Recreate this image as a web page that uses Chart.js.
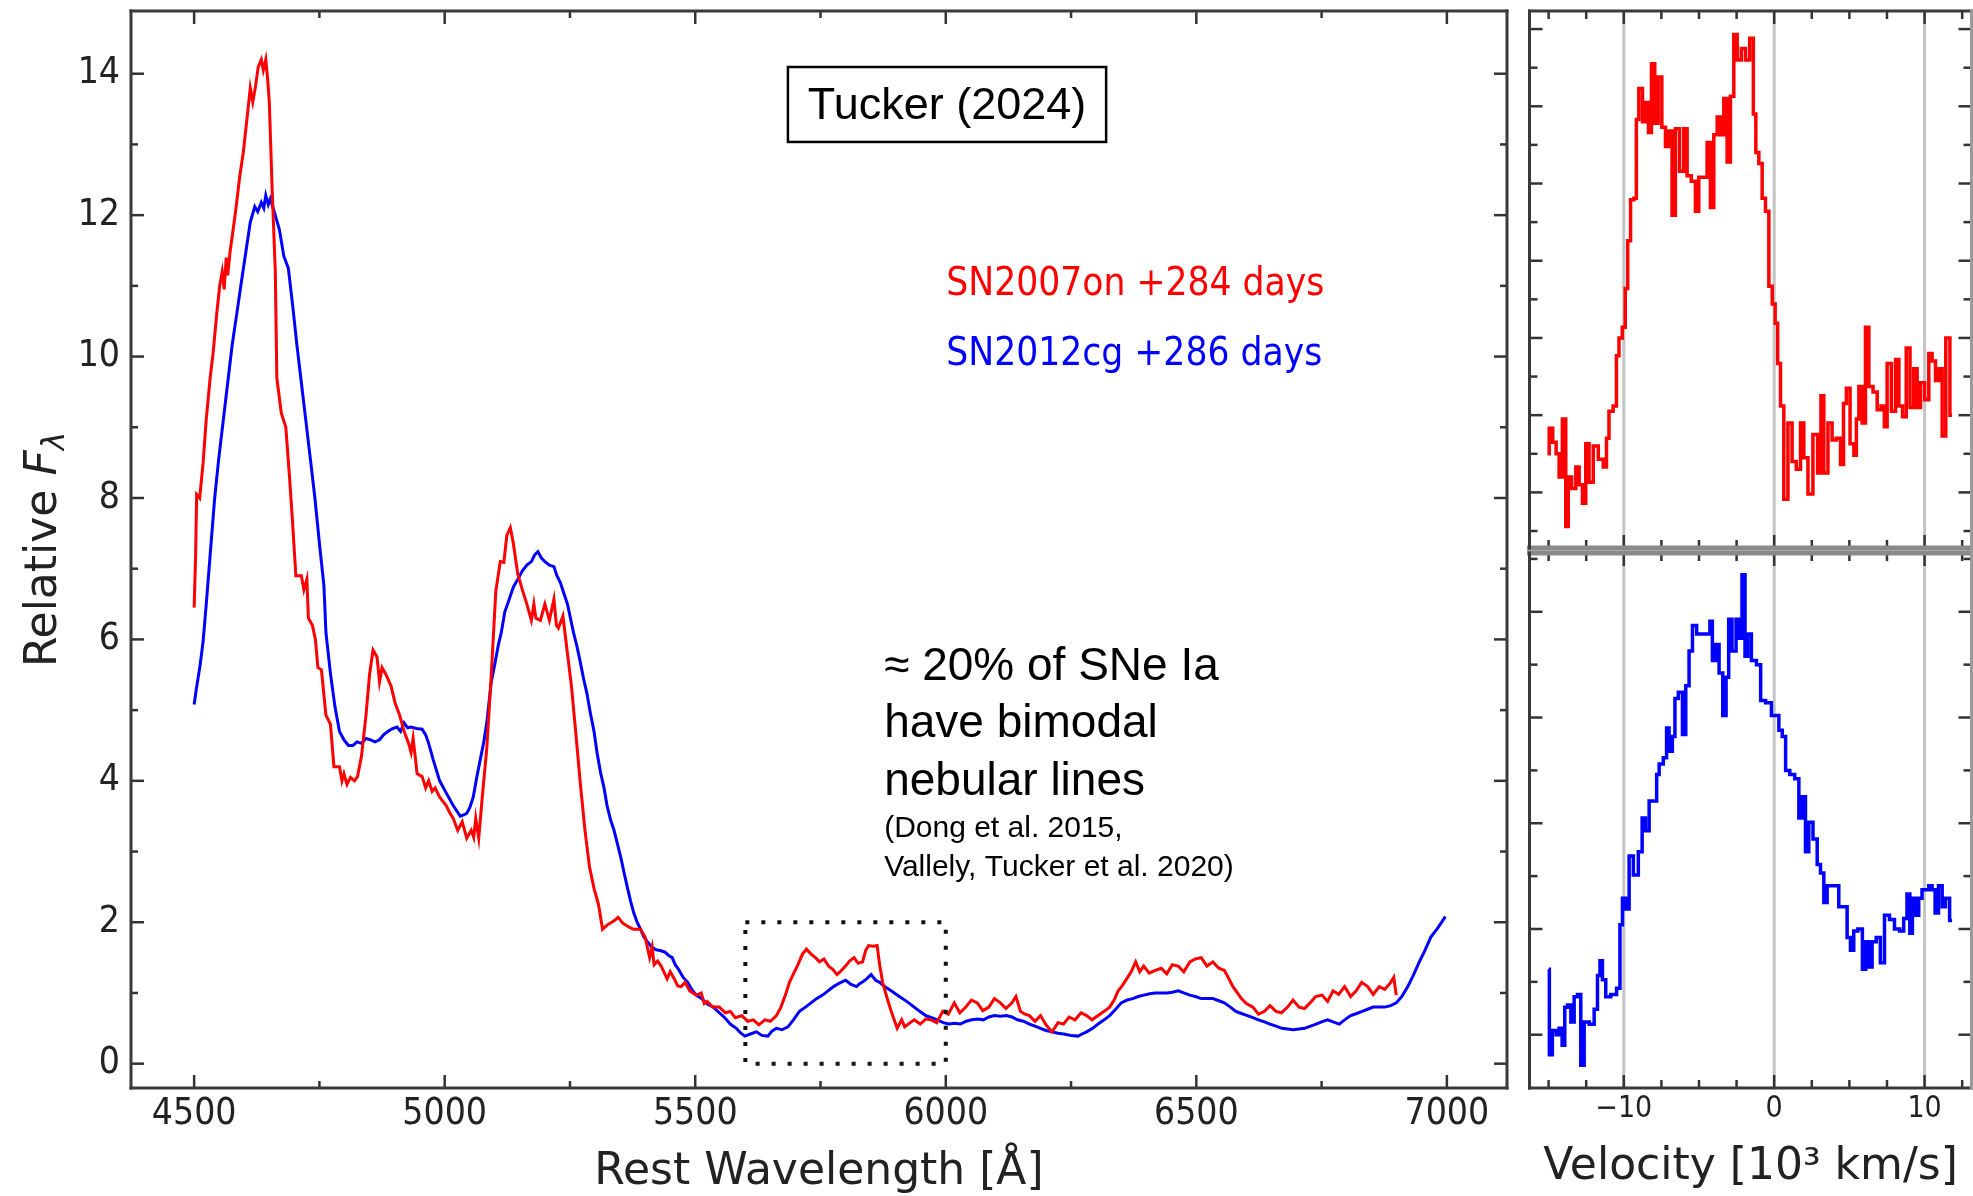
<!DOCTYPE html>
<html>
<head>
<meta charset="utf-8">
<script src="https://cdn.jsdelivr.net/npm/chart.js@4.4.1/dist/chart.umd.min.js"></script>
<style>
  html, body { margin: 0; padding: 0; background: #fff; }
  body { width: 1973px; height: 1196px; position: relative; overflow: hidden; }
  canvas { position: absolute; }
</style>
</head>
<body>
<canvas id="main" width="1515" height="1196" style="left:0;top:0;width:1515px;height:1196px"></canvas>
<canvas id="velTop" width="458" height="560" style="left:1515px;top:0;width:458px;height:560px"></canvas>
<canvas id="velBot" width="458" height="656" style="left:1515px;top:540px;width:458px;height:656px"></canvas>
<script>
// SN2007on +284 d (red) and SN2012cg +286 d (blue), rest wavelength [A] / relative flux
const redWave = [4500,4503,4505,4511,4518,4524,4532,4538,4545,4551,4556,4560,4564,4567,4572,4576,4583,4591,4598,4606,4612,4617,4622,4628,4634,4638,4643,4647,4650,4656,4662,4665,4674,4683,4690,4696,4703,4714,4719,4725,4728,4736,4742,4747,4754,4763,4772,4779,4790,4795,4799,4805,4812,4820,4826,4834,4843,4850,4857,4865,4870,4875,4883,4893,4901,4910,4919,4928,4933,4937,4945,4955,4962,4968,4975,4981,4990,5003,5010,5017,5026,5035,5044,5053,5058,5062,5068,5075,5084,5093,5102,5111,5118,5124,5131,5137,5146,5155,5164,5173,5178,5182,5191,5200,5209,5218,5223,5227,5236,5245,5253,5262,5271,5280,5289,5298,5307,5315,5324,5338,5346,5355,5368,5377,5391,5400,5409,5414,5418,5425,5432,5444,5450,5458,5465,5472,5480,5489,5502,5512,5518,5524,5535,5548,5560,5570,5580,5593,5605,5616,5627,5639,5650,5662,5671,5680,5688,5696,5705,5714,5722,5731,5740,5748,5757,5766,5775,5783,5792,5800,5808,5817,5825,5834,5840,5846,5855,5863,5868,5874,5882,5891,5897,5903,5912,5918,5925,5937,5949,5960,5971,5982,5994,6005,6017,6028,6040,6051,6063,6074,6086,6097,6109,6120,6132,6140,6149,6158,6167,6178,6189,6200,6212,6224,6235,6246,6258,6270,6281,6292,6304,6316,6327,6336,6344,6352,6361,6370,6379,6387,6395,6406,6418,6430,6441,6452,6464,6475,6487,6498,6510,6521,6533,6545,6556,6565,6573,6582,6590,6600,6613,6624,6636,6647,6659,6670,6682,6693,6705,6716,6727,6738,6751,6762,6773,6784,6796,6808,6819,6830,6842,6853,6865,6876,6888,6894,6899];
const redFlux = [6.45,7.2,8.05,8.0,8.5,9.1,9.7,10.06,10.6,11.0,11.2,10.95,11.4,11.15,11.5,11.7,12.07,12.55,12.88,13.4,13.8,13.6,13.8,14.1,14.2,14.05,14.2,13.9,13.6,12.3,11.2,9.7,9.2,9.0,8.33,7.7,6.9,6.9,6.7,6.85,6.3,6.2,6.0,5.6,5.57,4.93,4.8,4.2,4.2,4.0,4.1,3.95,4.05,4.0,4.06,4.35,4.93,5.5,5.85,5.75,5.4,5.6,5.5,5.34,5.1,4.93,4.7,4.53,4.4,4.6,4.1,4.06,3.9,4.0,3.85,3.9,3.77,3.65,3.55,3.47,3.3,3.42,3.19,3.3,3.2,3.47,3.19,3.77,4.46,5.5,6.68,7.1,7.09,7.47,7.58,7.36,6.92,6.7,6.5,6.27,6.5,6.3,6.27,6.5,6.27,6.57,6.2,6.16,6.33,5.8,5.34,4.65,3.94,3.3,2.78,2.48,2.25,1.9,1.96,2.02,2.07,1.99,1.93,1.9,1.9,1.79,1.5,1.65,1.4,1.45,1.38,1.2,1.3,1.2,1.1,1.09,1.15,1.03,0.97,1.0,0.85,0.88,0.8,0.8,0.72,0.74,0.65,0.68,0.6,0.62,0.55,0.62,0.6,0.68,0.8,0.97,1.15,1.27,1.4,1.55,1.62,1.55,1.5,1.44,1.48,1.38,1.33,1.26,1.32,1.38,1.45,1.5,1.42,1.44,1.6,1.67,1.66,1.67,1.4,1.15,0.95,0.74,0.62,0.5,0.62,0.52,0.56,0.62,0.56,0.63,0.62,0.58,0.74,0.7,0.86,0.72,0.8,0.9,0.86,0.75,0.8,0.92,0.86,0.78,0.86,0.95,0.74,0.7,0.68,0.6,0.68,0.55,0.45,0.58,0.56,0.66,0.62,0.72,0.68,0.62,0.68,0.74,0.8,0.9,1.03,1.1,1.2,1.3,1.44,1.3,1.38,1.28,1.32,1.35,1.27,1.4,1.38,1.3,1.44,1.48,1.5,1.38,1.44,1.35,1.32,1.2,1.09,1.0,0.92,0.85,0.8,0.7,0.74,0.82,0.74,0.72,0.8,0.9,0.8,0.78,0.86,0.95,0.97,0.88,1.03,0.98,1.09,0.95,1.03,1.15,1.09,0.98,1.09,1.05,1.15,1.22,0.97];

const blueWave = [4500,4504,4512,4518,4525,4532,4541,4549,4558,4567,4576,4585,4594,4603,4612,4621,4627,4634,4639,4643,4648,4652,4661,4670,4679,4688,4697,4705,4714,4723,4732,4741,4750,4759,4763,4772,4781,4790,4799,4808,4817,4825,4834,4843,4852,4861,4870,4878,4887,4896,4905,4912,4919,4926,4932,4944,4955,4962,4968,4977,4990,5003,5017,5031,5038,5044,5050,5057,5064,5071,5078,5084,5093,5100,5107,5113,5120,5128,5137,5146,5155,5164,5173,5180,5186,5193,5200,5209,5218,5224,5231,5238,5245,5251,5257,5264,5270,5277,5284,5291,5298,5304,5311,5318,5324,5331,5338,5345,5352,5358,5365,5371,5377,5384,5391,5397,5404,5413,5422,5430,5439,5447,5454,5460,5467,5476,5485,5493,5502,5513,5525,5536,5548,5559,5570,5582,5590,5599,5610,5622,5633,5645,5653,5662,5673,5685,5696,5708,5720,5731,5742,5754,5765,5776,5788,5800,5811,5822,5828,5833,5842,5851,5860,5868,5880,5891,5903,5914,5926,5937,5948,5960,5972,5983,5995,6006,6018,6029,6041,6052,6064,6075,6086,6097,6109,6121,6132,6143,6155,6167,6178,6189,6200,6212,6224,6235,6250,6264,6272,6281,6293,6304,6316,6327,6339,6350,6362,6373,6384,6395,6407,6418,6430,6441,6452,6464,6475,6487,6498,6510,6521,6533,6545,6556,6568,6579,6590,6602,6613,6624,6636,6647,6659,6671,6682,6693,6705,6716,6728,6739,6750,6762,6773,6785,6796,6808,6820,6831,6842,6853,6865,6876,6888,6899,6910,6922,6933,6945,6956,6968,6982,6997];
const blueFlux = [5.08,5.28,5.64,5.98,6.57,7.2,8.0,8.55,9.09,9.63,10.17,10.6,11.04,11.47,11.9,12.12,12.05,12.18,12.1,12.28,12.15,12.23,12.02,11.8,11.42,11.25,10.7,10.17,9.63,9.09,8.55,8.0,7.36,6.76,6.1,5.52,5.05,4.7,4.58,4.5,4.5,4.55,4.53,4.6,4.58,4.55,4.58,4.65,4.7,4.74,4.76,4.7,4.82,4.75,4.76,4.74,4.73,4.65,4.53,4.3,4.0,3.83,3.65,3.5,3.52,3.54,3.62,3.77,4.05,4.3,4.55,4.82,5.4,5.65,5.92,6.1,6.39,6.55,6.74,6.85,6.97,7.05,7.1,7.2,7.24,7.15,7.1,7.05,7.03,6.9,6.8,6.65,6.5,6.3,6.1,5.9,5.7,5.45,5.23,4.95,4.7,4.4,4.12,3.9,3.65,3.45,3.3,3.1,2.9,2.7,2.48,2.3,2.14,2.0,1.9,1.8,1.73,1.65,1.61,1.6,1.58,1.53,1.5,1.4,1.33,1.22,1.15,1.05,0.97,0.92,0.84,0.8,0.72,0.65,0.56,0.5,0.44,0.39,0.42,0.45,0.4,0.39,0.46,0.5,0.48,0.52,0.62,0.74,0.8,0.86,0.92,0.97,1.03,1.09,1.14,1.18,1.12,1.09,1.13,1.15,1.2,1.26,1.18,1.15,1.08,1.03,0.97,0.92,0.86,0.8,0.74,0.68,0.65,0.62,0.58,0.56,0.57,0.56,0.6,0.62,0.63,0.62,0.66,0.68,0.67,0.68,0.66,0.62,0.6,0.56,0.53,0.5,0.47,0.45,0.43,0.42,0.4,0.39,0.42,0.45,0.5,0.56,0.62,0.68,0.77,0.86,0.9,0.92,0.95,0.97,0.99,1.0,1.0,1.0,1.01,1.03,1.0,0.97,0.95,0.92,0.92,0.92,0.89,0.86,0.8,0.74,0.71,0.68,0.65,0.62,0.59,0.56,0.53,0.5,0.49,0.48,0.49,0.5,0.53,0.56,0.59,0.62,0.59,0.56,0.62,0.68,0.71,0.74,0.77,0.8,0.8,0.8,0.82,0.86,0.95,1.09,1.25,1.44,1.6,1.79,1.92,2.08];

// line profiles, velocity [10^3 km/s] / arbitrary flux
const velRed = [-15.07,-14.85,-14.6,-14.4,-14.2,-13.97,-13.75,-13.64,-13.3,-13.08,-12.86,-12.64,-12.42,-12.2,-11.86,-11.53,-11.2,-11.1,-10.87,-10.55,-10.43,-10.21,-9.99,-9.82,-9.66,-9.44,-9.22,-9.11,-8.89,-8.62,-8.45,-8.27,-8.05,-7.83,-7.6,-7.34,-7.12,-6.9,-6.68,-6.46,-6.13,-5.9,-5.68,-5.35,-5.13,-4.9,-4.57,-4.35,-4.13,-3.9,-3.68,-3.46,-3.24,-3.02,-2.8,-2.57,-2.35,-2.02,-1.8,-1.46,-1.31,-1.13,-0.91,-0.69,-0.47,-0.24,-0.02,0.15,0.31,0.53,0.75,1.08,1.3,1.64,1.86,2.08,2.41,2.74,3.03,3.19,3.41,3.74,3.96,4.3,4.52,4.7,4.9,5.19,5.41,5.52,5.74,5.96,6.18,6.41,6.74,6.96,7.25,7.4,7.62,7.96,8.18,8.4,8.67,8.89,9.17,9.39,9.62,9.84,10.17,10.39,10.61,10.84,11.06,11.28,11.54,11.83];
const lineRed = [1.5,1.83,1.65,1.5,1.2,1.95,0.56,1.2,1.05,1.33,1.1,0.86,1.63,1.13,1.6,1.43,1.33,1.7,2.05,2.12,2.77,3.0,3.14,3.64,4.26,4.79,4.81,5.83,6.23,5.8,6.05,5.66,6.55,5.78,6.38,5.73,5.48,5.68,4.59,5.71,5.16,5.71,5.1,5.03,4.64,5.08,5.08,5.53,4.69,5.63,5.86,5.63,6.1,5.28,6.13,6.93,6.6,6.75,6.6,6.88,5.9,5.4,5.26,4.81,4.64,3.67,3.44,3.19,2.67,2.12,0.91,1.9,1.4,1.3,1.9,1.45,0.98,1.75,1.25,2.25,1.25,1.9,1.68,1.7,1.36,2.15,2.35,1.63,1.48,1.95,2.37,1.9,3.14,2.37,2.3,2.07,2.12,1.85,2.67,2.05,2.72,2.12,1.98,2.87,2.1,2.6,2.1,2.42,2.2,2.8,2.7,2.45,2.6,1.73,3.0,2.0];
const velBlue = [-15.0,-14.9,-14.6,-14.4,-14.2,-14.0,-13.85,-13.63,-13.41,-13.19,-12.97,-12.75,-12.52,-12.08,-11.86,-11.64,-11.53,-11.31,-11.09,-10.65,-10.31,-10.2,-9.98,-9.76,-9.53,-9.2,-8.87,-8.69,-8.43,-8.2,-7.87,-7.76,-7.54,-7.21,-7.1,-6.88,-6.66,-6.54,-6.21,-5.99,-5.77,-5.55,-5.32,-4.99,-4.66,-4.33,-4.22,-4.0,-3.78,-3.55,-3.29,-3.11,-2.94,-2.67,-2.4,-2.23,-2.05,-1.83,-1.68,-1.35,-1.01,-0.79,-0.35,-0.02,0.2,0.42,0.65,0.87,1.2,1.53,1.75,1.97,2.19,2.41,2.75,2.97,3.19,3.41,3.63,3.96,4.18,4.41,4.74,4.96,5.18,5.4,5.73,6.0,6.17,6.4,6.62,6.95,7.17,7.5,7.83,8.17,8.5,8.72,8.94,9.1,9.28,9.5,9.72,9.94,10.17,10.39,10.61,10.79,11.06,11.28,11.5,11.83];
const lineBlue = [1.62,0.81,1.04,1.0,1.06,0.9,1.26,1.28,1.12,1.36,1.38,0.71,1.12,1.1,1.24,1.56,1.7,1.52,1.36,1.38,1.44,2.04,2.29,2.19,2.69,2.51,2.73,3.05,2.93,3.21,3.21,3.46,3.56,3.62,3.9,3.68,3.82,4.18,4.24,3.84,4.3,4.63,4.87,4.79,4.79,4.79,4.91,4.54,4.69,4.42,4.02,4.38,4.93,4.63,4.93,4.75,5.35,4.58,4.79,4.54,4.5,4.16,4.14,4.02,4.02,3.88,3.82,3.5,3.46,3.42,3.05,3.25,2.73,3.01,2.85,2.61,2.53,2.25,2.41,2.41,2.41,2.21,2.21,1.92,1.8,1.98,2.0,1.62,1.88,1.64,1.88,1.92,1.68,2.13,2.09,2.0,1.98,2.1,2.33,1.96,2.29,2.13,2.29,2.37,2.37,2.41,2.37,2.15,2.41,2.21,2.29,2.08];

// ticks
const waveTicks = [4500, 5000, 5500, 6000, 6500, 7000];
const waveMinor = [4750, 5250, 5750, 6250, 6750];
const fluxTicks = [0, 2, 4, 6, 8, 10, 12, 14];
const fluxMinor = [1, 3, 5, 7, 9, 11, 13];
const velTicks = [-10, 0, 10];
const velMinor = [-15, -12.5, -7.5, -5, -2.5, 2.5, 5, 7.5, 12.5];
const topTicks = [1, 2, 3, 4, 5, 6, 7];
const topMinor = [0.5, 1.5, 2.5, 3.5, 4.5, 5.5, 6.5];
const botTicks = [1, 2, 3, 4, 5];
const botMinor = [1.5, 2.5, 3.5, 4.5, 5.5];

// dotted region on the spectrum
const boxWave = [5600, 6000];
const boxFlux = [0, 2];

const seriesNames = ['SN2007on +284 days', 'SN2012cg +286 days'];

const MPL = "'DejaVu Sans Condensed', 'DejaVu Sans', sans-serif";
const MPLW = "'DejaVu Sans', sans-serif";
const PPT = "'Liberation Sans', Arial, sans-serif";

const pts = (xs, ys) => xs.map((x, i) => ({x, y: ys[i]}));
const fixTicks = vals => s => { s.ticks = vals.map(v => ({value: v})); };
const minus = v => (v < 0 ? '\u2212' + Math.abs(v) : String(v));
// fixed axis size, no extra room for the end labels
const fixSize = (key, px) => s => {
  s[key] = px;
  s.paddingTop = 0; s.paddingBottom = 0; s.paddingLeft = 0; s.paddingRight = 0;
};

// inward matplotlib-style ticks on all four sides, axes frame and grid
const framePlugin = {
  id: 'frame',
  beforeDatasetsDraw(chart, args, o) {
    const {ctx, chartArea: a, scales: {x}} = chart;
    if (!o.grid) return;
    ctx.save();
    ctx.strokeStyle = '#c4c4c4';
    ctx.lineWidth = 3;
    o.grid.forEach(v => {
      const px = x.getPixelForValue(v);
      ctx.beginPath(); ctx.moveTo(px, a.top); ctx.lineTo(px, a.bottom); ctx.stroke();
    });
    ctx.restore();
  },
  afterDatasetsDraw(chart, args, o) {
    const {ctx, chartArea: a, scales: {x, y}} = chart;
    const seg = (x0, y0, x1, y1) => { ctx.beginPath(); ctx.moveTo(x0, y0); ctx.lineTo(x1, y1); ctx.stroke(); };
    ctx.save();
    ctx.strokeStyle = '#333';
    ctx.lineWidth = 2.5;
    const xt = (vals, len) => vals.forEach(v => {
      const px = x.getPixelForValue(v);
      seg(px, a.top, px, a.top + len);
      seg(px, a.bottom, px, a.bottom - len);
    });
    const yt = (vals, len) => vals.forEach(v => {
      const py = y.getPixelForValue(v);
      seg(a.left, py, a.left + len, py);
      seg(a.right, py, a.right - len, py);
    });
    xt(o.xMajor, 13); xt(o.xMinor, o.minorLen);
    yt(o.yMajor, 13); yt(o.yMinor, o.minorLen);
    const sides = o.sides;
    ctx.lineCap = 'square';
    const side = (s, x0, y0, x1, y1) => {
      ctx.strokeStyle = s.color; ctx.lineWidth = s.width; seg(x0, y0, x1, y1);
    };
    side(sides.top, a.left, a.top, a.right, a.top);
    side(sides.bottom, a.left, a.bottom, a.right, a.bottom);
    side(sides.left, a.left, a.top, a.left, a.bottom);
    side(sides.right, a.right, a.top, a.right, a.bottom);
    ctx.restore();
  }
};

// text, legend and box on the spectrum panel
const notesPlugin = {
  id: 'notes',
  afterDraw(chart) {
    const {ctx, chartArea: a, scales: {x, y}} = chart;
    ctx.save();

    // dotted box
    ctx.strokeStyle = '#111';
    ctx.lineWidth = 4;
    ctx.setLineDash([4, 12]);
    const bx0 = x.getPixelForValue(boxWave[0]), bx1 = x.getPixelForValue(boxWave[1]);
    const by0 = y.getPixelForValue(boxFlux[1]), by1 = y.getPixelForValue(boxFlux[0]);
    ctx.strokeRect(bx0, by0, bx1 - bx0, by1 - by0);
    ctx.setLineDash([]);

    // Tucker (2024) box
    const tx0 = x.getPixelForValue(5685), tx1 = x.getPixelForValue(6320);
    const ty0 = y.getPixelForValue(14.095), ty1 = y.getPixelForValue(13.035);
    ctx.fillStyle = '#fff';
    ctx.fillRect(tx0, ty0, tx1 - tx0, ty1 - ty0);
    ctx.strokeStyle = '#000';
    ctx.lineWidth = 2.5;
    ctx.strokeRect(tx0, ty0, tx1 - tx0, ty1 - ty0);
    ctx.fillStyle = '#000';
    ctx.font = `45px ${PPT}`;
    ctx.textAlign = 'center';
    ctx.textBaseline = 'alphabetic';
    ctx.fillText('Tucker (2024)', (tx0 + tx1) / 2, y.getPixelForValue(13.36));

    // series labels
    ctx.textAlign = 'left';
    ctx.font = `38.5px ${MPL}`;
    const lx = x.getPixelForValue(6001);
    ctx.fillStyle = '#ff0000';
    ctx.fillText(seriesNames[0], lx, y.getPixelForValue(10.87));
    ctx.fillStyle = '#0000ff';
    ctx.fillText(seriesNames[1], lx, y.getPixelForValue(9.88));

    // remark
    ctx.fillStyle = '#000';
    const nx = x.getPixelForValue(5877);
    ctx.font = `46px ${PPT}`;
    ctx.fillText('\u2248 20% of SNe Ia', nx, y.getPixelForValue(5.426));
    ctx.fillText('have bimodal', nx, y.getPixelForValue(4.62));
    ctx.fillText('nebular lines', nx, y.getPixelForValue(3.80));
    ctx.font = `30px ${PPT}`;
    ctx.fillText('(Dong et al. 2015,', nx, y.getPixelForValue(3.207));
    ctx.fillText('Vallely, Tucker et al. 2020)', nx, y.getPixelForValue(2.66));

    // y title: Relative F_lambda
    ctx.translate(56, (a.top + a.bottom) / 2);
    ctx.rotate(-Math.PI / 2);
    ctx.fillStyle = '#222';
    const f1 = `44px ${MPLW}`, f2 = `italic 44px ${MPLW}`, f3 = `italic 31px ${MPLW}`;
    ctx.font = f1; const w1 = ctx.measureText('Relative ').width;
    ctx.font = f2; const w2 = ctx.measureText('F').width;
    ctx.font = f3; const w3 = ctx.measureText('\u03bb').width;
    let cx = -(w1 + w2 + w3) / 2;
    ctx.font = f1; ctx.fillText('Relative ', cx, 0); cx += w1;
    ctx.font = f2; ctx.fillText('F', cx, 0); cx += w2;
    ctx.font = f3; ctx.fillText('\u03bb', cx, 8);
    ctx.restore();
  }
};

const dark = {color: '#3a3a3a', width: 3};
const edge = {color: '#8a8a8a', width: 5};
const rim = {color: '#9a9a9a', width: 3};

new Chart(document.getElementById('main'), {
  type: 'line',
  data: {
    datasets: [
      {label: seriesNames[0], data: pts(redWave, redFlux), borderColor: '#ff0000', borderWidth: 3, pointRadius: 0, tension: 0},
      {label: seriesNames[1], data: pts(blueWave, blueFlux), borderColor: '#0000ff', borderWidth: 3, pointRadius: 0, tension: 0}
    ]
  },
  options: {
    responsive: false,
    animation: false,
    devicePixelRatio: 1,
    layout: {autoPadding: false, padding: {left: 0, right: 8, top: 11, bottom: 0}},
    scales: {
      x: {
        type: 'linear', min: 4374, max: 7120,
        afterBuildTicks: fixTicks(waveTicks),
        afterFit: fixSize('height', 108),
        grid: {display: false, drawTicks: false},
        border: {display: false},
        ticks: {font: {family: MPL, size: 37}, color: '#222', padding: 4, maxRotation: 0, autoSkip: false, callback: v => String(v)},
        title: {display: true, text: 'Rest Wavelength [\u00c5]', font: {family: MPLW, size: 44}, color: '#222', padding: {top: 0, bottom: -3}}
      },
      y: {
        type: 'linear', min: -0.344, max: 14.887,
        afterBuildTicks: fixTicks(fluxTicks),
        afterFit: fixSize('width', 131),
        grid: {display: false, drawTicks: false},
        border: {display: false},
        ticks: {font: {family: MPL, size: 37}, color: '#222', padding: 11, callback: v => String(v)}
      }
    },
    plugins: {
      legend: {display: false},
      tooltip: {enabled: false},
      frame: {xMajor: waveTicks, xMinor: waveMinor, yMajor: fluxTicks, yMinor: fluxMinor, minorLen: 7,
        sides: {top: dark, bottom: dark, left: dark, right: dark}}
    }
  },
  plugins: [framePlugin, notesPlugin]
});

new Chart(document.getElementById('velTop'), {
  type: 'line',
  data: {
    datasets: [{data: pts(velRed, lineRed), borderColor: '#ff0000', borderWidth: 3.5, pointRadius: 0, stepped: 'middle'}]
  },
  options: {
    responsive: false,
    animation: false,
    devicePixelRatio: 1,
    layout: {autoPadding: false, padding: {left: 14.5, right: 1.5, top: 11, bottom: 12}},
    scales: {
      x: {type: 'linear', min: -16.27, max: 13.12, display: false},
      y: {type: 'linear', min: 0.28, max: 7.234, display: false}
    },
    plugins: {
      legend: {display: false},
      tooltip: {enabled: false},
      frame: {grid: velTicks, xMajor: velTicks, xMinor: velMinor, yMajor: topTicks, yMinor: topMinor, minorLen: 8,
        sides: {top: dark, bottom: edge, left: dark, right: rim}}
    }
  },
  plugins: [framePlugin]
});

new Chart(document.getElementById('velBot'), {
  type: 'line',
  data: {
    datasets: [{data: pts(velBlue, lineBlue), borderColor: '#0000ff', borderWidth: 3.5, pointRadius: 0, stepped: 'middle'}]
  },
  options: {
    responsive: false,
    animation: false,
    devicePixelRatio: 1,
    layout: {autoPadding: false, padding: {left: 14.5, right: 1.5, top: 13, bottom: 0}},
    scales: {
      x: {
        type: 'linear', min: -16.27, max: 13.12,
        afterBuildTicks: fixTicks(velTicks),
        afterFit: fixSize('height', 108),
        grid: {display: false, drawTicks: false},
        border: {display: false},
        ticks: {font: {family: MPL, size: 30}, color: '#222', padding: 3, maxRotation: 0, autoSkip: false, callback: minus},
        title: {display: true, text: 'Velocity [10\u00b3 km/s]', font: {family: MPLW, size: 44}, color: '#222', padding: {top: 0, bottom: 2}}
      },
      y: {type: 'linear', min: 0.496, max: 5.556, display: false}
    },
    plugins: {
      legend: {display: false},
      tooltip: {enabled: false},
      frame: {grid: velTicks, xMajor: velTicks, xMinor: velMinor, yMajor: botTicks, yMinor: botMinor, minorLen: 8,
        sides: {top: edge, bottom: dark, left: dark, right: rim}}
    }
  },
  plugins: [framePlugin]
});
</script>
</body>
</html>
